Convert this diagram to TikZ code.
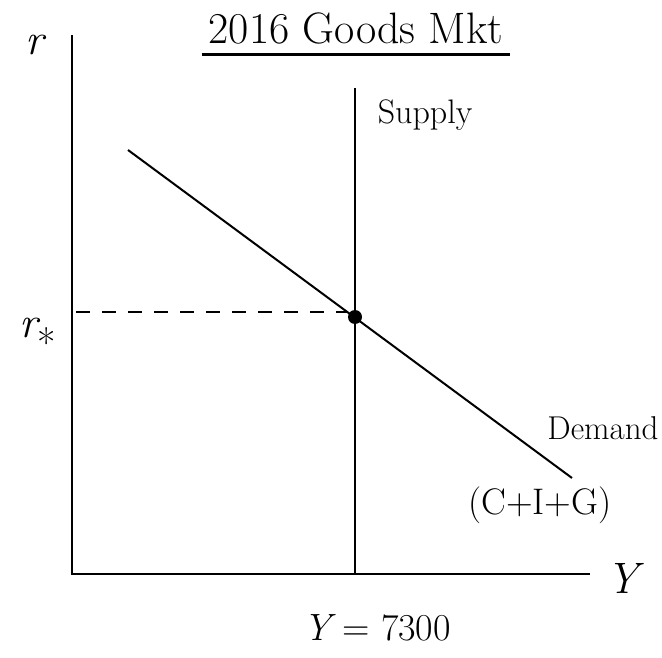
\documentclass[tikz,border=0pt]{standalone}
\usepackage{fontspec}
\usepackage{tikz}
\usetikzlibrary{positioning}

\begin{document}
\begin{tikzpicture}[x=1pt,y=-1pt,line width=2pt]
  \useasboundingbox (0,0) rectangle (662,658);
  \tikzset{lab/.style={inner sep=0pt,font=\fontsize{34}{34}\selectfont}}
  % axes
  \coordinate (org) at (72,574);
  \coordinate (ytop) at (72,35);
  \coordinate (xend) at (590,574);
  \draw (ytop) -- (org) -- (xend);
  % supply and demand
  \coordinate (stop) at (355,88);
  \coordinate (sbot) at (355,574);
  \coordinate (dtop) at (128,150);
  \coordinate (dbot) at (572,478);
  \draw (stop) -- (sbot);
  \draw (dtop) -- (dbot);
  \node[circle,fill,inner sep=0pt,minimum size=14pt] (eq) at (355,317) {};
  \coordinate (rdash) at (76,312);
  \draw[line width=2.4pt,dash pattern=on 14pt off 12pt] (rdash) -- (eq.west |- rdash);
  % labels
  \node[lab] (title) at (356,28) {\fontsize{44}{44}\selectfont 2016 Goods Mkt};
  \draw[line width=2.8pt] ([xshift=-6pt,yshift=-10pt]title.south west) -- ([xshift=6pt,yshift=-10pt]title.south east);
  \node[lab] (rlab) at (35,45) {\fontsize{44}{44}\selectfont\itshape r};
  \node[lab] (rstar) at (38,338) {\fontsize{44}{44}\selectfont\itshape r\raisebox{-20pt}{\fontsize{40}{40}\selectfont\upshape *}};
  \node[lab] (ylab) at (622,578) {\fontsize{44}{44}\selectfont\itshape Y};
  \node[lab] (supply) at (425,115) {Supply};
  \node[lab] (demand) at (603,428) {\fontsize{33}{33}\selectfont Demand};
  \node[lab] (cig) at (540,505) {\fontsize{37}{37}\selectfont (C+I+G)};
  \node[lab] (yval) at (377,628) {\fontsize{38}{38}\selectfont\itshape Y\upshape\ = 7300};
\end{tikzpicture}
\end{document}
